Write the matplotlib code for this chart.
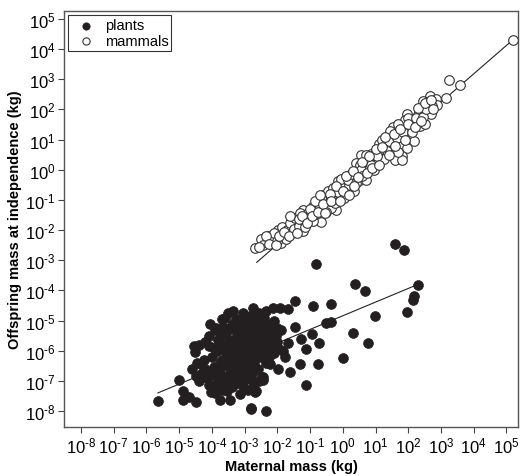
import numpy as np
import matplotlib
matplotlib.use("Agg")
import matplotlib.pyplot as plt

plt.rcParams['font.family'] = ['Liberation Sans', 'DejaVu Sans']
plt.rcParams['mathtext.fontset'] = 'custom'
plt.rcParams['mathtext.rm'] = 'Liberation Sans'
plt.rcParams['mathtext.it'] = 'Liberation Sans'

# log10 values: (maternal mass, offspring mass), kg
plants_logx = [
    1.59, 1.88, -0.83, 0.36, 0.67, 2.29, 2.19, 2.13, 1.96, 0.97,
    -1.45, -0.91, -0.36, -0.52, -0.36, -2.12, -1.91, -1.68, -1.45, 0.31,
    0.76, 0.02, -0.95, -1.27, -0.74, -1.12, -1.67, -1.82, -1.78, -1.31,
    -0.77, -1.61, -1.11, -1.99, -2.44, -2.44, -2.67, -2.36, -2.80, -2.09,
    -2.24,
    -5.64, -5.01, -4.88, -4.88, -4.70, -4.49, -4.48, -4.22, -4.52, -4.38,
    -4.09, -3.88, -3.50, -2.73, -3.33, -4.04, -3.76, -3.46, -3.99, -3.63,
    -2.82, -3.05, -2.66, -2.85, -2.46, -4.32, -3.71, -3.76,
    -4.25, -4.15, -4.10, -4.00, -4.00, -3.95, -3.90, -3.85, -3.80, -3.75,
    -3.70, -3.70, -3.65, -3.60, -3.60, -3.55, -3.50, -3.50, -3.50, -3.45,
    -3.40, -3.40, -3.35, -3.30, -3.30, -3.25, -3.20, -3.20, -3.20, -3.15,
    -3.10, -3.10, -3.05, -3.00, -3.00, -3.00, -2.95, -2.90, -2.90, -2.90,
    -2.85, -2.80, -2.80, -2.80, -2.75, -2.70, -2.70, -2.65, -2.60, -2.60,
    -2.60, -2.55, -2.50, -2.50, -2.45, -2.40, -2.40, -2.35, -2.30, -2.30,
    -2.25, -2.20, -2.20, -2.10, -2.10, -2.00, -2.00, -1.90, -1.95, -3.35,
    -3.95, -4.60, -4.40, -3.15, -2.55, -3.60,
    -3.90, -3.85, -3.80, -3.75, -3.70, -3.65, -3.60, -3.55, -3.50, -3.45,
    -3.40, -3.40, -3.35, -3.30, -3.25, -3.25, -3.20, -3.15, -3.10, -3.10,
    -3.05, -3.00, -2.95, -2.95, -2.90, -2.85, -2.80, -2.75, -2.75, -2.70,
    -2.65, -2.60, -2.55, -2.50, -2.45, -2.40, -2.35, -2.30, -2.25, -2.20,
    -2.15, -2.05, -4.05, -4.20, -4.30, -4.10, -3.85, -3.55, -3.30, -2.95,
    -2.70, -4.45, -4.55, -3.05, -2.85, -2.55, -3.70, -2.35,
]
plants_logy = [
    -2.46, -2.67, -3.13, -3.80, -4.01, -3.82, -4.17, -4.32, -4.71, -4.85,
    -4.34, -4.52, -4.44, -5.07, -5.04, -4.58, -4.58, -4.63, -5.22, -5.40,
    -5.76, -6.23, -5.46, -5.60, -5.73, -5.95, -5.73, -6.00, -6.22, -6.44,
    -6.45, -6.72, -7.15, -6.61, -6.88, -6.97, -7.37, -8.01, -7.93, -6.07,
    -6.44,
    -7.68, -6.96, -7.34, -7.62, -7.54, -7.71, -6.85, -6.61, -6.03, -5.80,
    -5.84, -5.24, -4.76, -4.59, -5.07, -7.37, -7.65, -7.62, -7.16, -7.16,
    -7.89, -7.18, -7.35, -6.94, -6.86, -6.44, -5.50, -5.95,
    -6.30, -6.90, -5.50, -6.20, -6.80, -6.55, -7.40, -6.00, -7.00, -6.40,
    -6.30, -7.30, -5.20, -5.80, -6.90, -6.10, -5.30, -6.50, -7.00, -5.65,
    -6.00, -7.20, -6.35, -5.60, -6.70, -4.95, -5.10, -6.20, -7.00, -5.45,
    -5.90, -6.50, -6.00, -5.40, -6.80, -4.90, -5.65, -6.10, -5.70, -7.30,
    -6.60, -5.20, -6.40, -6.90, -5.00, -5.50, -6.00, -6.25, -4.90, -6.60,
    -5.80, -5.15, -5.30, -6.20, -5.90, -5.60, -4.90, -6.40, -5.90, -5.20,
    -5.45, -5.50, -6.10, -5.00, -5.75, -5.70, -5.25, -5.30, -5.95, -4.70,
    -5.90, -6.60, -7.00, -7.45, -7.00, -4.90,
    -5.30, -6.75, -5.65, -6.60, -5.95, -6.85, -5.45, -6.40, -5.90, -6.75,
    -5.15, -6.55, -5.85, -6.15, -5.35, -6.95, -5.75, -6.35, -5.25, -6.80,
    -5.60, -6.25, -5.05, -6.55, -5.45, -6.15, -5.85, -6.70, -5.35, -6.45,
    -5.65, -5.40, -6.05, -5.75, -5.10, -6.10, -5.35, -5.65, -6.20, -5.10,
    -5.40, -5.50, -5.10, -5.70, -6.75, -7.15, -7.20, -7.35, -7.10, -6.95,
    -7.10, -6.40, -5.85, -4.75, -4.85, -4.75, -4.95, -4.70,
]

mammals_logx = [
    5.20, 3.58, 3.23, 3.14, 2.65, 2.84, 2.88, 2.74, 2.46, 2.38,
    2.31, 1.95, 2.14, 2.69, 1.91, 2.05, 2.36, 2.52, 1.54, 1.49,
    1.73, 2.03, 2.18, 1.85, 1.30, 1.54, 1.78, 1.95, 1.35, 1.60,
    1.81, 1.60, 1.81, 1.70, 0.56, 0.86, 1.12, 0.91, 1.17, 0.41,
    0.66, 1.27, -2.67, -2.39, -2.14, -1.88, -2.29, -2.03, -1.78, -1.98,
    -1.63, -1.42, -1.22, -1.32, -1.07, -0.97, -0.81, -0.66, -1.22, -1.12,
    -0.77, -0.56, -0.46, -0.26, -0.20, -0.36, -0.61, -0.10, 0.10, -0.16,
    0.00, 0.20, 0.30, 0.51, 0.35, 0.45, 0.66, 0.71, 0.51, 0.81,
    0.96, 0.71, 0.96,
    -2.50, -2.45, -2.20, -2.10, -2.00, -1.90, -1.85, -1.75, -1.70, -1.60,
    -1.55, -1.50, -1.45, -1.35, -1.30, -1.20, -1.15, -1.05, -1.00, -0.90,
    -0.90, -0.85, -0.70, -0.65, -0.50, -0.45, -0.40, -0.30, -0.25, -0.15,
    -0.05, 0.05, 0.15, 0.25, 0.40, 0.55, 0.60, 0.85, 1.05, 1.10,
    1.20, 1.40, 1.45, 1.65, 1.70, 1.85, 2.00, 2.10, 2.25, 2.45,
    2.55, 2.60,
    -2.55, -2.35, -2.25, -2.05, -1.95, -1.80, -1.65, -1.60, -1.40, -1.35,
    -1.25, -1.10, -1.00, -0.95, -0.85, -0.75, -0.70, -0.60, -0.55, -0.40,
    -0.35, -0.20, -0.10, 0.00, 0.10, 0.20, 0.30, 0.35, 0.45, 0.60,
    0.75, 0.80, 0.90, 1.00, 1.10, 1.20, 1.30, 1.40, 1.55, 1.60,
    1.75, 1.90, 2.00, 2.20, 2.30, 2.40, 2.50, 2.70, 2.75,
]
mammals_logy = [
    4.31, 2.80, 2.98, 2.39, 2.43, 2.34, 2.16, 2.11, 2.28, 1.99,
    1.83, 1.86, 1.59, 1.85, 1.64, 1.39, 1.46, 1.51, 1.43, 1.15,
    1.23, 1.13, 0.96, 0.93, 0.82, 0.82, 0.77, 0.73, 0.63, 0.59,
    0.45, 0.32, 0.32, 0.58, 0.49, 0.51, 0.65, 0.29, 0.32, 0.21,
    0.21, 0.36, -2.59, -2.40, -2.42, -2.43, -2.20, -2.20, -2.13, -1.99,
    -1.93, -1.87, -2.02, -1.66, -1.71, -1.38, -1.49, -1.73, -1.33, -1.54,
    -1.11, -1.18, -0.94, -0.94, -1.33, -1.27, -0.83, -0.83, -0.72, -0.39,
    -0.50, -0.50, -0.28, -0.34, -0.72, -0.06, 0.05, -0.34, 0.16, 0.27,
    0.00, 0.49, 0.49,
    -2.30, -2.50, -2.30, -2.10, -2.35, -2.15, -1.90, -2.30, -2.00, -1.75,
    -2.10, -1.95, -1.60, -1.85, -1.45, -1.70, -1.90, -1.45, -1.60, -1.20,
    -1.70, -1.35, -1.25, -1.00, -1.40, -0.70, -1.05, -0.60, -1.10, -0.75,
    -0.30, -0.95, -0.35, -0.15, -0.45, 0.00, -0.20, 0.15, 0.45, 0.85,
    1.00, 0.95, 1.30, 1.05, 1.50, 1.25, 1.70, 1.25, 1.70, 1.75,
    2.00, 2.25,
    -2.55, -2.20, -2.45, -2.50, -2.20, -2.05, -2.20, -1.55, -2.10, -1.65,
    -1.55, -1.75, -1.30, -1.55, -1.05, -1.40, -0.85, -1.15, -1.45, -0.80,
    -1.05, -0.55, -1.05, -0.70, -0.20, -0.85, -0.05, -0.55, -0.25, 0.25,
    -0.10, 0.45, 0.05, 0.70, 0.15, 0.75, 1.10, 0.50, 1.20, 0.80,
    1.35, 1.00, 1.50, 1.40, 2.05, 1.60, 2.20, 2.30, 2.00,
]

# fitted lines (log10 endpoints)
plants_fit_logx = [-5.65, 2.30]
plants_fit_logy = [-7.40, -3.80]
mammals_fit_logx = [-2.63, 5.20]
mammals_fit_logy = [-3.07, 4.31]

xtick_exp = list(range(-8, 6))
ytick_exp = list(range(-8, 6))


def exp_label(e):
    # hyphen-style minus, as in the original figure
    s = str(e).replace('-', '\u2010')
    return r'$\mathregular{10^{%s}}$' % s


fig = plt.figure(figsize=(5.2, 4.77), dpi=100)
ax = fig.add_axes([0.123, 0.1027, 0.873, 0.872])

px = 10.0 ** np.array(plants_logx)
py = 10.0 ** np.array(plants_logy)
mx = 10.0 ** np.array(mammals_logx)
my = 10.0 ** np.array(mammals_logy)

ax.plot(10.0 ** np.array(plants_fit_logx), 10.0 ** np.array(plants_fit_logy),
        color='#222222', lw=0.8, zorder=1)
ax.plot(10.0 ** np.array(mammals_fit_logx), 10.0 ** np.array(mammals_fit_logy),
        color='#222222', lw=0.8, zorder=1)

ax.scatter(px, py, s=50, c='#231f20', edgecolors='#231f20', linewidths=0.5,
           label='plants', zorder=3)
ax.scatter(mx, my, s=48, c='white', edgecolors='#333333', linewidths=0.8,
           label='mammals', zorder=3)

ax.set_xscale('log')
ax.set_yscale('log')
ax.set_xlim(10 ** -8.52, 10 ** 5.35)
ax.set_ylim(10 ** -8.53, 10 ** 5.26)

ax.set_xticks([10.0 ** e for e in xtick_exp])
ax.set_xticklabels([exp_label(e) for e in xtick_exp])
ax.set_yticks([10.0 ** e for e in ytick_exp])
ax.set_yticklabels([exp_label(e) for e in ytick_exp])
ax.minorticks_off()
ax.tick_params(direction='out', length=4, width=0.8, labelsize=12,
               color='#444444', pad=2)

for sp in ax.spines.values():
    sp.set_color('#555555')
    sp.set_linewidth(1.0)

ax.set_xlabel('Maternal mass (kg)', fontsize=10.5, fontweight='bold', labelpad=3)
ax.set_ylabel('Offspring mass at independence (kg)', fontsize=10.5,
              fontweight='bold', labelpad=2)

leg = ax.legend(loc='upper left', fontsize=10.5, frameon=True, fancybox=False,
                borderpad=0.2, handletextpad=0.3, labelspacing=0.1,
                borderaxespad=0.3, markerscale=0.75)
leg.get_frame().set_edgecolor('black')
leg.get_frame().set_linewidth(0.8)

fig.savefig('out.png', dpi=100)
